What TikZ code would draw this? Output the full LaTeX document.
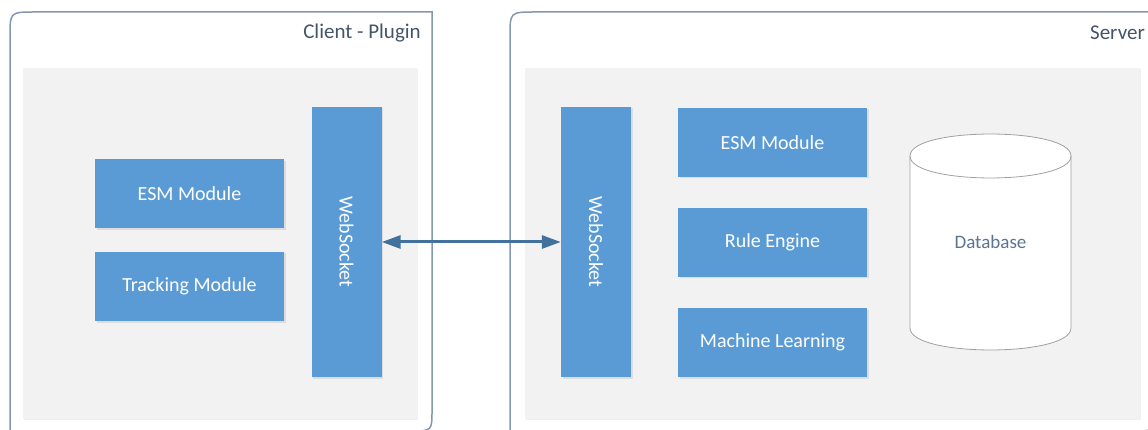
\documentclass[tikz,border=0pt]{standalone}
\usepackage{fontspec}
\setmainfont{Carlito}
\usetikzlibrary{arrows.meta,shadows}

\definecolor{boxblue}{RGB}{91,155,213}
\definecolor{panelgray}{RGB}{242,242,242}
\definecolor{framecol}{RGB}{132,151,176}
\definecolor{titlecol}{RGB}{68,84,106}
\definecolor{arrowcol}{RGB}{65,113,156}
\definecolor{dbline}{RGB}{160,160,160}
\definecolor{dbtext}{RGB}{90,117,145}

\tikzset{
  modulo/.style={rectangle, fill=boxblue, text=white, inner sep=0pt,
    minimum width=189pt, minimum height=69pt, font=\fontsize{20}{24}\selectfont,
    drop shadow={opacity=0.18, shadow xshift=1.5pt, shadow yshift=-1.5pt}},
  presa/.style={modulo, rotate=-90, minimum width=270pt, minimum height=70pt},
  titolo/.style={anchor=east, inner sep=0pt, text=titlecol, font=\fontsize{21}{25}\selectfont},
  cornice/.style={draw=framecol, line width=1.5pt},
  pannello/.style={fill=panelgray, drop shadow={opacity=0.12, shadow xshift=1pt, shadow yshift=-1pt}},
  freccia/.style={draw=arrowcol, line width=3pt,
    {Triangle[length=19pt,width=13pt]}-{Triangle[length=19pt,width=13pt]}},
  cilindro/.style={draw=dbline, line width=0.8pt},
  archivio/.style={rectangle, minimum width=161pt, minimum height=216pt, inner sep=0pt,
    text=dbtext, font=\fontsize{19}{23}\selectfont}
}

\begin{document}
\begin{tikzpicture}[x=1pt, y=-1pt]
    \clip (0,0) rectangle (1148,430);

    % Cornici
    \draw[cornice] (10,431) -- (10,37) .. controls (10,12) .. (35,12) -- (432,12)
        -- (432,410) .. controls (432,431) .. (411,431) -- cycle;
    \draw[cornice] (510,431) -- (510,37) .. controls (510,12) .. (535,12) -- (1155,12)
        -- (1155,410) .. controls (1155,431) .. (1134,431) -- cycle;
    \node[titolo] (tclient) at (421,33) {Client - Plugin};
    \node[titolo] (tserver) at (1145,33) {Server};

    % Pannelli
    \fill[pannello] (23,68) rectangle (417,419);
    \fill[pannello] (525,68) rectangle (1140,419);

    % Client
    \node[modulo] (esmc) at (189.5,194) {ESM Module};
    \node[modulo] (track) at (189.5,286.5) {Tracking Module};
    \node[presa] (wsc) at (346.5,242) {WebSocket};

    % Server
    \node[presa] (wss) at (596,242) {WebSocket};
    \node[modulo] (esms) at (772.5,142.5) {ESM Module};
    \node[modulo] (rule) at (772.5,242.5) {Rule Engine};
    \node[modulo] (ml) at (772.5,342.5) {Machine Learning};

    % Database
    \filldraw[cilindro, fill=white] (910,156) -- (910,328)
        .. controls (910,357.3) and (1071,357.3) .. (1071,328) -- (1071,156)
        .. controls (1071,126.7) and (910,126.7) .. (910,156) -- cycle;
    \draw[cilindro] (910,156) .. controls (910,185.3) and (1071,185.3) .. (1071,156);
    \node[archivio] (db) at (990.5,242) {Database};

    % Collegamento
    \draw[freccia] (wsc) -- (wss);
\end{tikzpicture}
\end{document}
